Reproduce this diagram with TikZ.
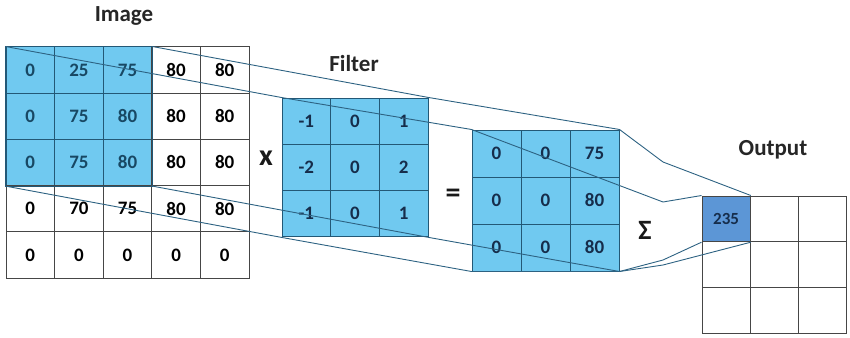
\documentclass[tikz,border=0pt]{standalone}
\usepackage{fontspec}
\setmainfont{Carlito}
\definecolor{cellblue}{RGB}{112,201,240}
\definecolor{outblue}{RGB}{92,150,214}
\definecolor{linecol}{RGB}{45,98,130}
\definecolor{bluetext}{RGB}{24,72,100}
\definecolor{navytext}{RGB}{22,45,75}
\definecolor{gridgray}{RGB}{70,70,70}
\definecolor{blueedge}{RGB}{35,88,118}
\begin{document}
\begin{tikzpicture}[x=1pt,y=-1pt,
  numfont/.style={font=\fontsize{19}{21}\selectfont\bfseries},
  imgcell/.style={numfont, line width=1pt, minimum width=48.6pt, minimum height=46.2pt, inner sep=0pt},
  fltcell/.style={numfont, line width=1pt, fill=cellblue, draw=blueedge, text=navytext, minimum width=48.7pt, minimum height=46.3pt, inner sep=0pt},
  rescell/.style={numfont, line width=1pt, fill=cellblue, draw=blueedge, text=navytext, minimum width=49pt, minimum height=47pt, inner sep=0pt},
  outcell/.style={line width=1pt, draw=gridgray, fill=white, minimum width=48.3pt, minimum height=45.7pt, inner sep=0pt},
  title/.style={font=\fontsize{23}{26}\selectfont\bfseries, text=black!85},
  opsym/.style={font=\bfseries, text=black!90},
  conn/.style={draw=linecol, line width=0.9pt, line join=round}]
\useasboundingbox (0,0) rectangle (850,337);

% titles
\node[title] (timg) at (124,16) {Image};
\node[title] (tflt) at (354,64) {Filter};
\node[title] (tout) at (773,150) {Output};

% image grid
\foreach \row [count=\r from 0] in {{0,25,75,80,80},{0,75,80,80,80},{0,75,80,80,80},{0,70,75,80,80},{0,0,0,0,0}} {
  \foreach \v [count=\c from 0] in \row {
    \ifnum\r<3 \ifnum\c<3 \def\fc{cellblue}\def\tc{bluetext}\def\dc{blueedge}\else\def\fc{white}\def\tc{black}\def\dc{gridgray}\fi
    \else\def\fc{white}\def\tc{black}\def\dc{gridgray}\fi
    \node[imgcell, fill=\fc, text=\tc, draw=\dc] (img-\r-\c) at ({6+48.6*(\c+0.5)},{47+46.2*(\r+0.5)}) {\v};
  }
}
% redraw highlighted block border so it stays blue
\draw[blueedge, line width=1pt] (img-0-0.north west) rectangle (img-2-2.south east);

% filter grid
\foreach \row [count=\r from 0] in {{-1,0,1},{-2,0,2},{-1,0,1}} {
  \foreach \v [count=\c from 0] in \row {
    \node[fltcell] (flt-\r-\c) at ({282+48.7*(\c+0.5)},{98+46.3*(\r+0.5)}) {\v};
  }
}

% result grid
\foreach \row [count=\r from 0] in {{0,0,75},{0,0,80},{0,0,80}} {
  \foreach \v [count=\c from 0] in \row {
    \node[rescell] (res-\r-\c) at ({472+49*(\c+0.5)},{130+47*(\r+0.5)}) {\v};
  }
}

% output grid
\foreach \r in {0,1,2} {
  \foreach \c in {0,1,2} {
    \node[outcell] (out-\r-\c) at ({702+48.3*(\c+0.5)},{196+45.7*(\r+0.5)}) {};
  }
}
\node[outcell, fill=outblue, text=navytext, font=\fontsize{17}{19}\selectfont\bfseries] (out-0-0) at ({702+48.3*0.5},{196+45.7*0.5}) {235};

% operators
\node[opsym, font=\fontsize{30}{30}\selectfont\bfseries] (times) at (266,158) {x};
\node[opsym, font=\fontsize{30}{30}\selectfont\bfseries] (equals) at (453,196) {=};
\node[opsym, font=\fontsize{28}{28}\selectfont\bfseries] (sigma) at (645,230) {Σ};

% knee points
\coordinate (kTR) at (663,162);
\coordinate (kTL) at (663,202);
\coordinate (kBR) at (663,260);
\coordinate (kBL) at (663,265);

% connectors
\draw[conn] (img-0-0.north west) -- (flt-0-0.north west) -- (res-0-0.north west) -- (kTL) -- (out-0-0.north west);
\draw[conn] (img-0-2.north east) -- (flt-0-2.north east) -- (res-0-2.north east) -- (kTR) -- (out-0-0.north east);
\draw[conn] (img-2-2.south east) -- (flt-2-2.south east) -- (res-2-2.south east) -- (kBR) -- (out-0-0.south west);
\draw[conn] (img-2-0.south west) -- (flt-2-0.south west) -- (res-2-0.south west) -- (res-2-2.south east) -- (kBL) -- (out-0-0.south east);
\end{tikzpicture}
\end{document}
